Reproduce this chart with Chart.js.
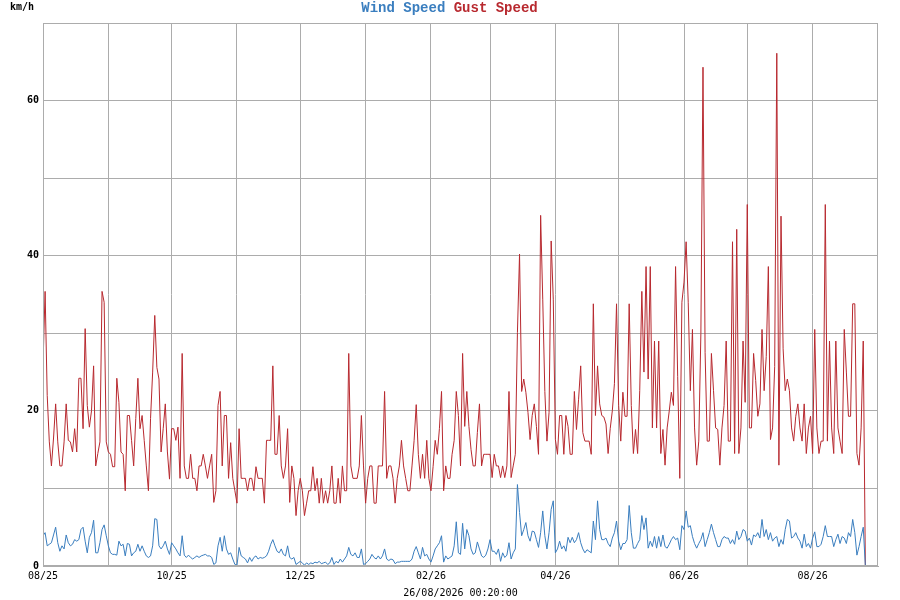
<!DOCTYPE html>
<html><head><meta charset="utf-8">
<script src="https://cdn.jsdelivr.net/npm/chart.js@4.4.1/dist/chart.umd.min.js"></script>
<style>html,body{margin:0;padding:0;background:#fff}#wrap{width:900px;height:600px}</style>
</head><body><div id="wrap"><canvas id="c" width="900" height="600"></canvas></div>
<script>
// ---- data ----
const startDate = '2025-08-01';
const axisEndDate = '2026-09-01';
const monthStarts = ['2025-08-01','2025-09-01','2025-10-01','2025-11-01','2025-12-01','2026-01-01','2026-02-01','2026-03-01','2026-04-01','2026-05-01','2026-06-01','2026-07-01','2026-08-01'];
const monthTickLabels = ['08/25','','10/25','','12/25','','02/26','','04/26','','06/26','','08/26'];
const yTicks = [0,10,20,30,40,50,60,70];
const yTickLabels = ['0','','20','','40','','60',''];
const unitText = 'km/h';
const titleParts = ['Wind Speed', 'Gust Speed'];
const footerText = '26/08/2026 00:20:00';

const gustSpeed = [
25.9,35.4,22,16,12.9,16.5,20.9,16,12.9,12.9,16,20.9,16.2,16,14.7,17.7,14.7,24.2,24.2,17.7,30.6,20.7,17.9,20,25.8,12.9,14.5,16,35.4,34,16,14.7,14.4,12.8,12.8,24.2,21.1,14.7,14.4,9.7,19.4,19.4,16.2,12.9,19,24.2,17.7,19.4,16.2,12.9,9.7,19,25,32.3,25.6,24.1,14.7,17.7,20.9,14.7,11.2,17.7,17.7,16.2,17.9,11.3,27.4,12.9,
11.3,11.3,14.4,11.3,11.3,9.7,12.9,12.9,14.4,12.9,11.3,12.9,14.4,8.2,9.7,20.7,22.5,12.9,19.4,19.4,11.3,15.9,11.3,9.7,8.1,17.7,11.3,11.3,11.3,9.7,11.3,11.3,9.7,12.8,11.3,11.3,11.3,8.1,16.2,16.2,16.2,25.8,14.4,14.4,19.4,12.9,11.3,12.9,17.7,8.2,12.9,11.3,6.5,9.7,11.3,9.7,6.5,8.1,9.7,9.7,12.8,9.7,11.3,8.1,11.3,8.1,
9.7,8.1,9.7,12.9,8.1,8.1,11.3,8.1,12.9,9.7,9.7,27.4,12.9,11.3,11.3,11.3,12.9,19.4,12.9,8.1,11.3,12.9,12.9,8.1,8.1,12.9,12.9,12.9,22.5,11.3,12.9,12.9,11.3,8.1,11.3,12.9,16.2,12.9,11.3,9.7,9.7,12.9,16.2,20.8,14.4,11.3,14.4,11.3,16.2,11.3,9.7,12.8,16.2,14.4,17.7,22.5,9.7,12.9,11.3,11.3,14.4,16.2,22.5,19.4,12.9,27.4,
18,22.5,18,15,12.9,12.9,17.2,20.9,12.9,14.4,14.4,14.4,14.4,11.4,14.4,12.9,12.9,11.4,12.9,11.4,12.9,22.5,11.4,12.9,14.4,30.1,40.2,22.5,24.1,22.4,19.8,16.3,19.4,20.9,18,14.4,45.2,34.4,22.5,16.1,19.8,41.9,34.4,16.3,14.4,19.4,19.4,14.4,19.4,18,14.4,14.4,22.5,17.6,21.5,25.8,17.2,16.1,16.1,16.1,14.4,33.8,19.4,25.8,20.9,19.4,19.2,
18.3,14.5,17.7,20,23.5,33.8,20.7,16.1,22.4,19.3,19.3,33.8,20.7,14.5,17.6,14.5,22.6,35.4,25,38.6,24.1,38.6,17.8,29,17.8,29,14.5,17.6,13,17.8,20,22.4,20.7,38.6,24.4,11.3,34,36.6,41.8,34,22.6,30.5,17.8,13,16.1,30,64.3,27.5,16.1,16.1,27.4,22.6,17.8,17.6,13,17.8,20.7,29,16.1,16.1,41.8,14.5,43.4,14.5,17.8,29,
21.1,46.6,17.8,17.8,27.4,23.9,19.3,20.9,30.5,22.6,27,38.6,16.3,17.8,25.7,66.1,13,45.1,28,22.6,24.1,22.6,17.8,16.1,19.3,20.9,17.8,16.1,20.9,14.5,17.8,19.3,14.5,30.5,17.8,14.5,16.1,16.1,46.6,16.1,29,17.8,14.5,29,17.8,16.1,14.5,30.5,25,19.3,19.3,33.8,33.8,14.5,13,17.8,29,0
];

const windSpeed = [
3.9,4.3,2.6,2.8,3,4,5,3,1.9,2.6,2.2,4,3,2.6,2.8,3.4,3.2,3.4,4.7,5,3.2,1.7,3.7,4.3,5.9,1.7,1.7,3,4.7,5.3,3.9,2.6,1.7,1.5,1.5,1.4,3.2,2.6,2.8,1.3,2.9,2.8,1.3,1.7,1.9,2.8,1.9,2.6,1.9,1.3,1.1,1.3,2.6,6.1,6,2.6,2.2,2.6,3.2,2.2,1.5,3,2.6,2.2,1.7,1.3,3.9,1.4,
1.1,1.4,1.1,0.9,1.1,1.3,1.1,1.3,1.4,1.5,1.3,1.3,1.1,0.2,0.4,2.6,3.7,1.9,3.9,2.2,1.5,1.7,0.9,0.2,0.1,2.4,1.3,1.1,0.9,0.4,1.1,0.6,1.1,1.3,0.9,1.1,1,1.1,1.3,1.9,2.8,3.4,2.6,1.9,1.7,2.2,1.5,1.3,2.6,1.1,0.9,1.1,0.2,0.4,0.6,0.4,0.1,0.4,0.2,0.4,0.3,0.5,0.4,0.6,0.3,0.4,
0.5,0.2,0.4,1.1,0.2,0.6,0.4,0.9,0.5,0.9,1.3,2.4,1.5,1.3,1.7,1.1,1.1,2.2,0.2,0.3,0.6,0.9,1.5,1.1,0.9,1.3,0.9,1.3,2.2,0.9,0.7,0.9,0.8,0.3,0.5,0.5,0.6,0.6,0.6,0.6,0.6,0.9,1.9,2.5,1.7,0.9,2.4,1.3,1.5,0.9,0.5,1.3,2.2,2.6,3,3.9,0.5,1.3,0.9,1.1,1.3,2.6,5.7,1.7,1.5,5.5,
2.2,4.7,3.9,2.2,1.5,1.7,3.1,2.2,1.3,1.1,1.4,2.2,3.4,1.9,1.9,1.5,2.2,0.6,1.7,1.1,1.4,3,0.9,1.7,2.2,10.5,6.9,3.9,4.7,5.6,3.9,3.2,4.5,4.4,3.4,2.4,4.3,7.1,3.9,2.2,4.3,7.3,8.4,1.7,2.2,3.2,2.2,2.6,1.9,3.7,3,3.7,3,3.4,4.3,3,2.2,1.7,2.1,1.9,1.7,5.8,3.4,8.4,4.7,3.4,3.4,
3.6,2.9,2.5,3.6,4.3,5.8,3.2,2.1,2.9,2.9,3.4,7.8,4.3,2.3,2.3,2.9,3.4,6.5,4.7,6.2,2.3,3.2,2.5,3.8,2.3,3.8,2.5,4,2.5,2.3,2.8,3.4,3.8,3.4,3.6,2.1,5.2,4.7,7.1,5,5.2,3.8,2.9,2.3,2.9,3.4,4.3,2.5,3.4,4.3,5.4,4.3,3.4,2.5,2.5,3.4,3.8,3.6,3.6,2.9,3.4,2.8,4.5,3.4,3.8,4.7,
4.5,3.2,3.6,2.7,4,3.8,4.3,3.6,6,3.8,4.7,3.4,4.3,3.2,3.6,3.8,2.5,3.4,2.8,4.7,6,5.8,3.6,3.8,4.3,3.6,3.2,2.3,4.1,2.5,2.9,2.3,3.6,4.4,2.5,2.5,2.8,3.8,5.2,3.8,3.8,3.8,2.5,3.4,4.1,2.9,3.8,3.6,2.9,4.3,3.8,6,4.3,1.4,2.5,3.8,5,0
];

// ---- styling ----
const BLUE = '#3a7ebf';
const RED = '#b8292f';
const GRID = '#acacac';
const MONO = '"DejaVu Sans Mono", "Liberation Mono", monospace';

const DAY = 86400000;
const dayOf = s => (Date.parse(s) - Date.parse(startDate)) / DAY;
const tickDays = monthStarts.map(dayOf);

const framePlugin = {
  id: 'frame',
  beforeDraw(chart) {
    const c = chart.ctx;
    c.save(); c.fillStyle = '#fff'; c.fillRect(0, 0, chart.width, chart.height); c.restore();
  },
  afterDraw(chart) {
    const c = chart.ctx, a = chart.chartArea;
    c.save();
    c.strokeStyle = GRID; c.lineWidth = 1;
    c.strokeRect(Math.round(a.left) + 0.5, Math.round(a.top) + 0.5, Math.round(a.right - a.left) - 1, Math.round(a.bottom - a.top) - 1);
    // unit
    c.fillStyle = '#000';
    c.font = 'bold 10px ' + MONO;
    c.textBaseline = 'middle'; c.textAlign = 'left';
    c.fillText(unitText, 10, 7);
    // title
    c.font = 'bold 14px "Liberation Mono", "DejaVu Sans Mono", monospace';
    const sp = c.measureText(' ').width;
    const w0 = c.measureText(titleParts[0]).width, w1 = c.measureText(titleParts[1]).width;
    let x = 449.5 - (w0 + sp + w1) / 2;
    c.fillStyle = BLUE; c.fillText(titleParts[0], x, 8);
    c.fillStyle = RED; c.fillText(titleParts[1], x + w0 + sp, 8);
    c.restore();
  }
};

new Chart(document.getElementById('c'), {
  type: 'line',
  data: {
    datasets: [
      { label: titleParts[0], data: windSpeed.map((v, i) => ({ x: i, y: v })), borderColor: BLUE, borderWidth: 1, pointRadius: 0, fill: false, tension: 0 },
      { label: titleParts[1], data: gustSpeed.map((v, i) => ({ x: i, y: v })), borderColor: RED, borderWidth: 1, pointRadius: 0, fill: false, tension: 0 }
    ]
  },
  options: {
    responsive: false,
    animation: false,
    devicePixelRatio: 1,
    layout: { padding: { top: 23, right: 22, bottom: 0, left: 0 } },
    plugins: { legend: { display: false }, title: { display: false }, tooltip: { enabled: false } },
    scales: {
      x: {
        type: 'linear', min: 0, max: dayOf(axisEndDate),
        afterBuildTicks: s => { s.ticks = tickDays.map(v => ({ value: v })); },
        afterFit: s => { s.height = 34; },
        ticks: { autoSkip: false, maxRotation: 0, padding: 4, color: '#000', font: { family: MONO, size: 10 },
                 callback: (v, i) => monthTickLabels[i] },
        grid: { color: GRID, lineWidth: 1, drawTicks: false },
        border: { display: true, color: GRID },
        title: { display: true, text: footerText, color: '#000', font: { family: MONO, size: 10 }, padding: { top: 0, bottom: 1 } }
      },
      y: {
        min: 0, max: 70,
        afterBuildTicks: s => { s.ticks = yTicks.map(v => ({ value: v })); },
        afterFit: s => { s.width = 43; },
        ticks: { padding: 4, color: '#000', font: { family: MONO, size: 10, weight: 'bold' },
                 callback: (v, i) => yTickLabels[i] },
        grid: { color: GRID, lineWidth: 1, drawTicks: false },
        border: { display: true, color: GRID }
      }
    }
  },
  plugins: [framePlugin]
});
</script>
</body></html>
